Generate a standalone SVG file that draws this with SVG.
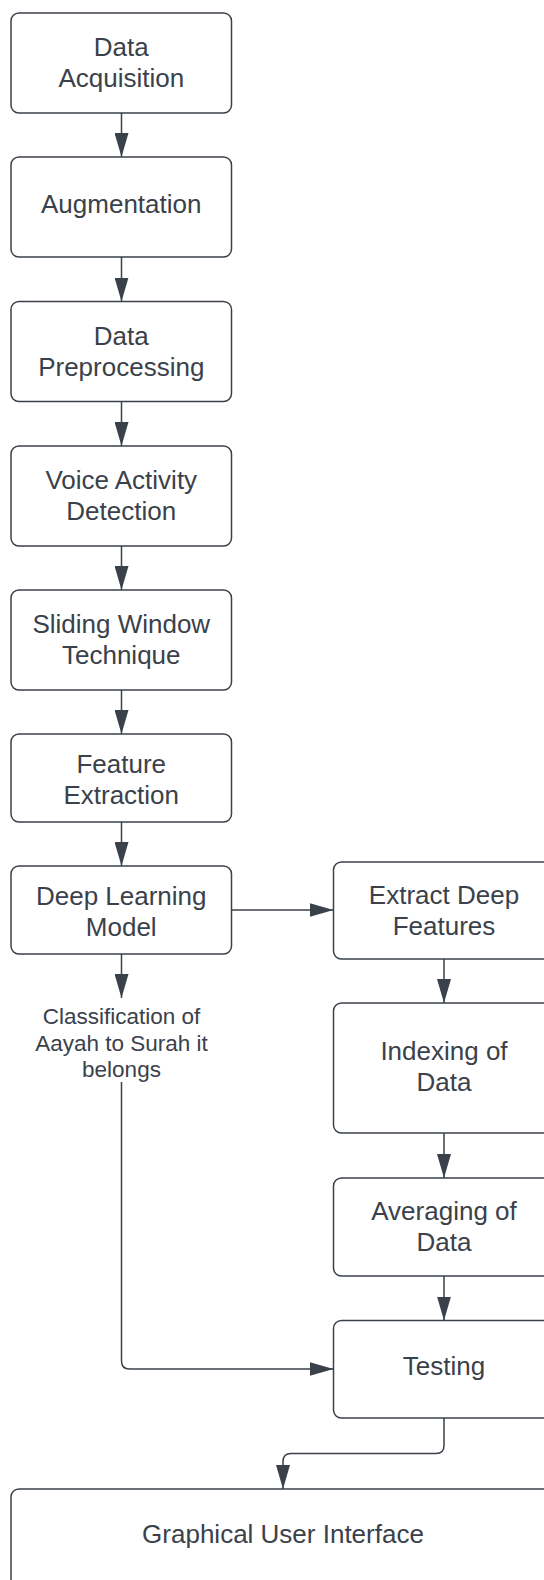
<svg xmlns="http://www.w3.org/2000/svg" width="544" height="1580" viewBox="0 0 544 1580">
<style>
.box{fill:#ffffff;stroke:#3a414a;stroke-width:1.5}
.t{font-family:"Liberation Sans",Arial,sans-serif;font-size:26px;fill:#3a414a;text-anchor:middle}
.lbl{font-family:"Liberation Sans",Arial,sans-serif;font-size:22.5px;fill:#3a414a;text-anchor:middle}
.c{fill:none;stroke:#3a414a;stroke-width:1.5;marker-end:url(#ah)}
</style>
<defs>
<marker id="ah" viewBox="0 0 24 14" refX="24" refY="7" markerWidth="24" markerHeight="14" markerUnits="userSpaceOnUse" orient="auto">
<path d="M0,0 L24,7 L0,14 Z" fill="#3a414a"/>
</marker>
</defs>
<rect width="544" height="1580" fill="#ffffff"/>
<g id="connectors">
<path class="c" d="M121.5,113 V157"/>
<path class="c" d="M121.5,257 V301.5"/>
<path class="c" d="M121.5,401.5 V446"/>
<path class="c" d="M121.5,546 V590"/>
<path class="c" d="M121.5,690 V734"/>
<path class="c" d="M121.5,822 V866"/>
<path class="c" d="M231.5,910 H333.5"/>
<path class="c" d="M121.5,954 V998"/>
<path class="c" d="M121.5,1082 V1361 Q121.5,1369 129.5,1369 H333.5"/>
<path class="c" d="M444,959 V1003"/>
<path class="c" d="M444,1133 V1178"/>
<path class="c" d="M444,1276 V1320.5"/>
<path class="c" d="M444,1418 V1445.5 Q444,1453.5 436,1453.5 H291 Q283,1453.5 283,1461.5 V1489"/>
</g>
<g id="n1"><rect class="box" x="11" y="13" width="220.5" height="100" rx="8"/><text class="t" x="121.25" y="55.5">Data</text><text class="t" x="121.25" y="86.5">Acquisition</text></g>
<g id="n2"><rect class="box" x="11" y="157" width="220.5" height="100" rx="8"/><text class="t" x="121.25" y="213">Augmentation</text></g>
<g id="n3"><rect class="box" x="11" y="301.5" width="220.5" height="100" rx="8"/><text class="t" x="121.25" y="344.5">Data</text><text class="t" x="121.25" y="375.5">Preprocessing</text></g>
<g id="n4"><rect class="box" x="11" y="446" width="220.5" height="100" rx="8"/><text class="t" x="121.25" y="489">Voice Activity</text><text class="t" x="121.25" y="520">Detection</text></g>
<g id="n5"><rect class="box" x="11" y="590" width="220.5" height="100" rx="8"/><text class="t" x="121.25" y="633">Sliding Window</text><text class="t" x="121.25" y="664">Technique</text></g>
<g id="n6"><rect class="box" x="11" y="734" width="220.5" height="88" rx="8"/><text class="t" x="121.25" y="773">Feature</text><text class="t" x="121.25" y="804">Extraction</text></g>
<g id="n7"><rect class="box" x="11" y="866" width="220.5" height="88" rx="8"/><text class="t" x="121.25" y="905">Deep Learning</text><text class="t" x="121.25" y="936">Model</text></g>
<g id="n8"><text class="lbl" x="121.5" y="1023.5">Classification of</text><text class="lbl" x="121.5" y="1050.5">Aayah to Surah it</text><text class="lbl" x="121.5" y="1077">belongs</text></g>
<g id="n9"><rect class="box" x="333.5" y="862" width="221" height="97" rx="8"/><text class="t" x="444" y="903.5">Extract Deep</text><text class="t" x="444" y="934.5">Features</text></g>
<g id="n10"><rect class="box" x="333.5" y="1003" width="221" height="130" rx="8"/><text class="t" x="444" y="1060">Indexing of</text><text class="t" x="444" y="1091">Data</text></g>
<g id="n11"><rect class="box" x="333.5" y="1178" width="221" height="98" rx="8"/><text class="t" x="444" y="1220">Averaging of</text><text class="t" x="444" y="1251">Data</text></g>
<g id="n12"><rect class="box" x="333.5" y="1320.5" width="221" height="97.5" rx="8"/><text class="t" x="444" y="1375">Testing</text></g>
<g id="n13"><rect class="box" x="11" y="1489" width="544" height="100" rx="8"/><text class="t" x="283" y="1543">Graphical User Interface</text></g>
</svg>
